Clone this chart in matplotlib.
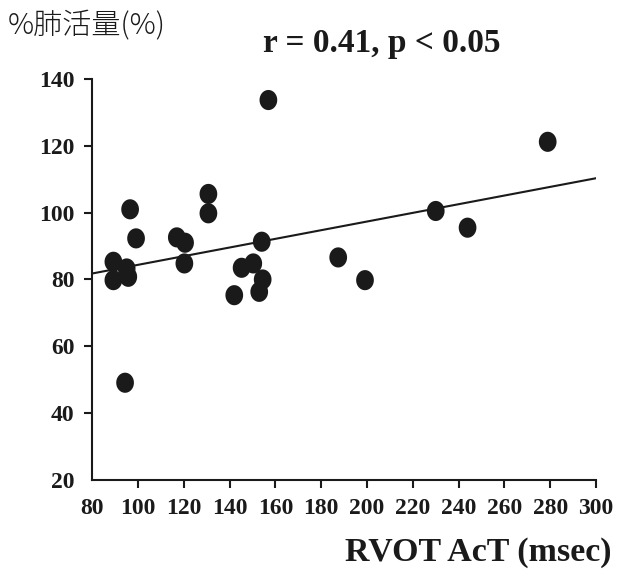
import matplotlib
matplotlib.use('Agg')
import matplotlib.pyplot as plt
import numpy as np
from matplotlib.path import Path

# RVOT AcT (msec) と %肺活量(%) の散布データ
act = [96.5, 130.7, 130.7, 99.1, 116.9, 120.5, 120.2, 89.2, 89.2, 95.0,
       95.7, 154.0, 145.2, 150.3, 154.4, 152.9, 142.0, 94.3, 156.9, 187.4,
       199.1, 230.0, 243.9, 278.9]
vc = [101.0, 105.6, 99.8, 92.3, 92.6, 91.0, 84.8, 85.3, 79.8, 83.3,
      80.8, 91.3, 83.5, 84.8, 80.0, 76.3, 75.3, 49.1, 133.7, 86.6,
      79.8, 100.5, 95.5, 121.2]

# 回帰直線の両端
fit_x = [80, 300]
fit_y = [81.8, 110.3]

xticks = list(range(80, 301, 20))
yticks = list(range(20, 141, 20))

SERIF = 'Liberation Serif'

fig = plt.figure(figsize=(6.18, 5.74), dpi=100)
ax = fig.add_axes([0.1494, 0.1638, 0.9644 - 0.1494, 0.8624 - 0.1638])

# 少し縦長の楕円マーカー
t = np.linspace(0, 2 * np.pi, 60)
ell = Path(np.column_stack([np.cos(t) * 0.88, np.sin(t)]))

ax.plot(fit_x, fit_y, color='#1a1a1a', lw=1.5, zorder=2)
ax.scatter(act, vc, marker=ell, s=210, color='#1a1a1a', edgecolors='none', zorder=3)

ax.set_xlim(80, 300)
ax.set_ylim(20, 140)
ax.set_xticks(xticks)
ax.set_yticks(yticks)
for sp in ['top', 'right']:
    ax.spines[sp].set_visible(False)
for sp in ['left', 'bottom']:
    ax.spines[sp].set_linewidth(1.5)
    ax.spines[sp].set_color('#1a1a1a')
ax.tick_params(direction='out', length=6, width=1.5, color='#1a1a1a', pad=7)
ax.xaxis.get_major_ticks()[0].tick1line.set_visible(False)
ax.yaxis.get_major_ticks()[0].tick1line.set_visible(False)
for lab in ax.get_xticklabels() + ax.get_yticklabels():
    lab.set_fontfamily(SERIF)
    lab.set_fontweight('bold')
    lab.set_fontsize(17)
    lab.set_color('#1a1a1a')

fig.text(0.012, 0.955, '%肺活量(%)', family=['Noto Sans CJK JP', 'DejaVu Sans'],
         fontsize=21, fontweight='light', va='center', ha='left', color='#1a1a1a')
fig.text(0.617, 0.925, 'r = 0.41, p < 0.05', family=SERIF, fontweight='bold',
         fontsize=24, va='center', ha='center', color='#1a1a1a')
fig.text(0.99, 0.037, 'RVOT AcT (msec)', family=SERIF, fontweight='bold',
         fontsize=24.5, va='center', ha='right', color='#1a1a1a')

fig.savefig('out.png', dpi=100)
